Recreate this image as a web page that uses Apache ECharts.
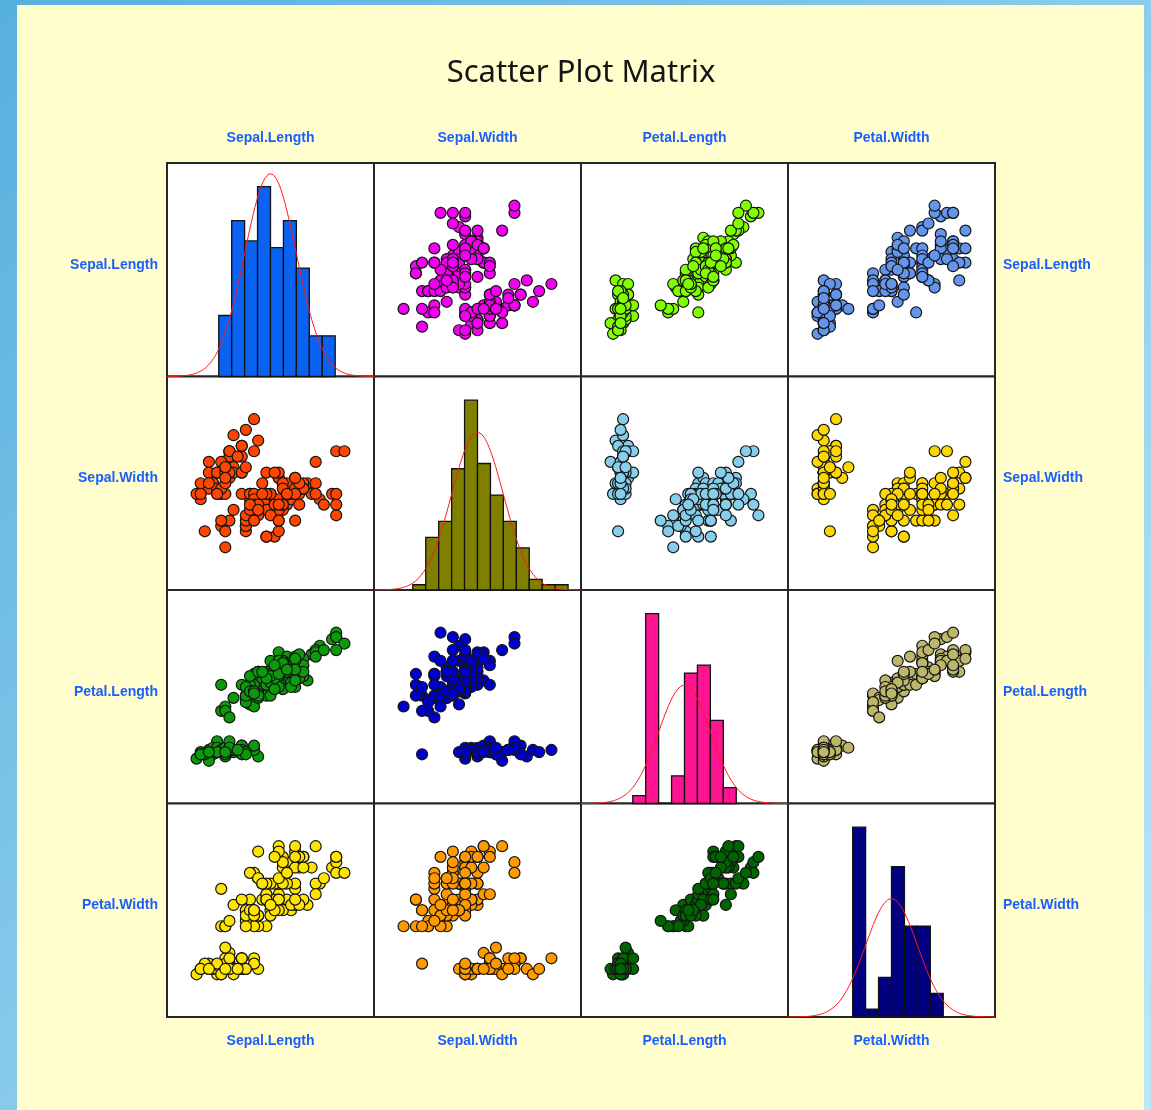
<!DOCTYPE html>
<html>
<head>
<meta charset="utf-8">
<title>Scatter Plot Matrix</title>
<script src="https://cdn.jsdelivr.net/npm/echarts@6/dist/echarts.min.js"></script>
<style>
  html, body { margin: 0; padding: 0; width: 1151px; height: 1110px; overflow: hidden; }
  #chart { width: 1151px; height: 1110px; }
</style>
</head>
<body>
<div id="chart"></div>
<script>
// Iris measurements (setosa, versicolor, virginica; 50 flowers each)
const varNames = ['Sepal.Length', 'Sepal.Width', 'Petal.Length', 'Petal.Width'];

const sepalLength = [
  5.1,4.9,4.7,4.6,5.0,5.4,4.6,5.0,4.4,4.9,5.4,4.8,4.8,4.3,5.8,5.7,5.4,5.1,5.7,5.1,5.4,5.1,4.6,5.1,4.8,
  5.0,5.0,5.2,5.2,4.7,4.8,5.4,5.2,5.5,4.9,5.0,5.5,4.9,4.4,5.1,5.0,4.5,4.4,5.0,5.1,4.8,5.1,4.6,5.3,5.0,
  7.0,6.4,6.9,5.5,6.5,5.7,6.3,4.9,6.6,5.2,5.0,5.9,6.0,6.1,5.6,6.7,5.6,5.8,6.2,5.6,5.9,6.1,6.3,6.1,6.4,
  6.6,6.8,6.7,6.0,5.7,5.5,5.5,5.8,6.0,5.4,6.0,6.7,6.3,5.6,5.5,5.5,6.1,5.8,5.0,5.6,5.7,5.7,6.2,5.1,5.7,
  6.3,5.8,7.1,6.3,6.5,7.6,4.9,7.3,6.7,7.2,6.5,6.4,6.8,5.7,5.8,6.4,6.5,7.7,7.7,6.0,6.9,5.6,7.7,6.3,6.7,
  7.2,6.2,6.1,6.4,7.2,7.4,7.9,6.4,6.3,6.1,7.7,6.3,6.4,6.0,6.9,6.7,6.9,5.8,6.8,6.7,6.7,6.3,6.5,6.2,5.9
];

const sepalWidth = [
  3.5,3.0,3.2,3.1,3.6,3.9,3.4,3.4,2.9,3.1,3.7,3.4,3.0,3.0,4.0,4.4,3.9,3.5,3.8,3.8,3.4,3.7,3.6,3.3,3.4,
  3.0,3.4,3.5,3.4,3.2,3.1,3.4,4.1,4.2,3.1,3.2,3.5,3.6,3.0,3.4,3.5,2.3,3.2,3.5,3.8,3.0,3.8,3.2,3.7,3.3,
  3.2,3.2,3.1,2.3,2.8,2.8,3.3,2.4,2.9,2.7,2.0,3.0,2.2,2.9,2.9,3.1,3.0,2.7,2.2,2.5,3.2,2.8,2.5,2.8,2.9,
  3.0,2.8,3.0,2.9,2.6,2.4,2.4,2.7,2.7,3.0,3.4,3.1,2.3,3.0,2.5,2.6,3.0,2.6,2.3,2.7,3.0,2.9,2.9,2.5,2.8,
  3.3,2.7,3.0,2.9,3.0,3.0,2.5,2.9,2.5,3.6,3.2,2.7,3.0,2.5,2.8,3.2,3.0,3.8,2.6,2.2,3.2,2.8,2.8,2.7,3.3,
  3.2,2.8,3.0,2.8,3.0,2.8,3.8,2.8,2.8,2.6,3.0,3.4,3.1,3.0,3.1,3.1,3.1,2.7,3.2,3.3,3.0,2.5,3.0,3.4,3.0
];

const petalLength = [
  1.4,1.4,1.3,1.5,1.4,1.7,1.4,1.5,1.4,1.5,1.5,1.6,1.4,1.1,1.2,1.5,1.3,1.4,1.7,1.5,1.7,1.5,1.0,1.7,1.9,
  1.6,1.6,1.5,1.4,1.6,1.6,1.5,1.5,1.4,1.5,1.2,1.3,1.4,1.3,1.5,1.3,1.3,1.3,1.6,1.9,1.4,1.6,1.4,1.5,1.4,
  4.7,4.5,4.9,4.0,4.6,4.5,4.7,3.3,4.6,3.9,3.5,4.2,4.0,4.7,3.6,4.4,4.5,4.1,4.5,3.9,4.8,4.0,4.9,4.7,4.3,
  4.4,4.8,5.0,4.5,3.5,3.8,3.7,3.9,5.1,4.5,4.5,4.7,4.4,4.1,4.0,4.4,4.6,4.0,3.3,4.2,4.2,4.2,4.3,3.0,4.1,
  6.0,5.1,5.9,5.6,5.8,6.6,4.5,6.3,5.8,6.1,5.1,5.3,5.5,5.0,5.1,5.3,5.5,6.7,6.9,5.0,5.7,4.9,6.7,4.9,5.7,
  6.0,4.8,4.9,5.6,5.8,6.1,6.4,5.6,5.1,5.6,6.1,5.6,5.5,4.8,5.4,5.6,5.1,5.1,5.9,5.7,5.2,5.0,5.2,5.4,5.1
];

const petalWidth = [
  0.2,0.2,0.2,0.2,0.2,0.4,0.3,0.2,0.2,0.1,0.2,0.2,0.1,0.1,0.2,0.4,0.4,0.3,0.3,0.3,0.2,0.4,0.2,0.5,0.2,
  0.2,0.4,0.2,0.2,0.2,0.2,0.4,0.1,0.2,0.2,0.2,0.2,0.1,0.2,0.2,0.3,0.3,0.2,0.6,0.4,0.3,0.2,0.2,0.2,0.2,
  1.4,1.5,1.5,1.3,1.5,1.3,1.6,1.0,1.3,1.4,1.0,1.5,1.0,1.4,1.3,1.4,1.5,1.0,1.5,1.1,1.8,1.3,1.5,1.2,1.3,
  1.4,1.4,1.7,1.5,1.0,1.1,1.0,1.2,1.6,1.5,1.6,1.5,1.3,1.3,1.3,1.2,1.4,1.2,1.0,1.3,1.2,1.3,1.3,1.1,1.3,
  2.5,1.9,2.1,1.8,2.2,2.1,1.7,1.8,1.8,2.5,2.0,1.9,2.1,2.0,2.4,2.3,1.8,2.2,2.3,1.5,2.3,2.0,2.0,1.8,2.1,
  1.8,1.8,1.8,2.1,1.6,1.9,2.0,2.2,1.5,1.4,2.3,2.4,1.8,1.8,2.1,2.4,2.3,1.9,2.3,2.5,2.3,1.9,2.0,2.3,1.8
];

const columns = [sepalLength, sepalWidth, petalLength, petalWidth];

// fill colour of each panel, row by row (diagonal = histogram bars)
const panelColors = [
  ['#0A62F2', '#F200F0', '#80FF00', '#6495ED'],
  ['#FF4500', '#808000', '#87CEEB', '#FFD700'],
  ['#0A9A0A', '#0000CD', '#FF1493', '#BDB76B'],
  ['#FFE400', '#FF9900', '#006400', '#000080']
];

// ---- layout of the 4x4 panel block ----
const LEFT = 167, TOP = 163, CELL_W = 207, CELL_H = 213.5, N = 4;
const LABEL_COLOR = '#1A5EFF';
const LABEL_FONT = 'bold 14px "Liberation Sans", Arial, sans-serif';

function describe(v) {
  const n = v.length;
  const mean = v.reduce((a, b) => a + b, 0) / n;
  const sd = Math.sqrt(v.reduce((a, b) => a + (b - mean) * (b - mean), 0) / (n - 1));
  return { n, mean, sd, min: Math.min(...v), max: Math.max(...v) };
}

// histogram with bins half a standard deviation wide, aligned on the mean
function histogram(v, s) {
  const bw = s.sd / 2;
  const counts = {};
  v.forEach(x => {
    const k = Math.floor((x - s.mean) / bw);
    counts[k] = (counts[k] || 0) + 1;
  });
  const ks = Object.keys(counts).map(Number);
  const lo = Math.min(...ks), hi = Math.max(...ks);
  const bins = [];
  for (let k = lo; k <= hi; k++) {
    bins.push([s.mean + k * bw, s.mean + (k + 1) * bw, counts[k] || 0]);
  }
  return { bw, bins };
}

// normal density of the column, expressed in bin counts
function densityCurve(s, bw) {
  const pts = [];
  const steps = 160;
  const a = s.mean - 4 * s.sd, b = s.mean + 4 * s.sd;
  for (let i = 0; i <= steps; i++) {
    const x = a + (b - a) * i / steps;
    const z = (x - s.mean) / s.sd;
    pts.push([x, s.n * bw * Math.exp(-0.5 * z * z) / (s.sd * Math.sqrt(2 * Math.PI))]);
  }
  return pts;
}

const stats = columns.map(describe);

const grids = [], xAxes = [], yAxes = [], series = [];

for (let r = 0; r < N; r++) {
  for (let c = 0; c < N; c++) {
    const gi = grids.length;
    grids.push({
      left: LEFT + c * CELL_W,
      top: TOP + r * CELL_H,
      width: CELL_W,
      height: CELL_H,
      show: true,
      backgroundColor: '#FFFFFF',
      borderColor: '#262626',
      borderWidth: 2,
      containLabel: false
    });
    const sx = stats[c], sy = stats[r];
    if (r === c) {
      const h = histogram(columns[c], sx);
      const maxCount = Math.max(...h.bins.map(b => b[2]));
      xAxes.push({ type: 'value', gridIndex: gi, show: false,
        min: sx.mean - 4 * sx.sd, max: sx.mean + 4 * sx.sd });
      yAxes.push({ type: 'value', gridIndex: gi, show: false, min: 0, max: maxCount * 9 / 8 });
      const fill = panelColors[r][c];
      series.push({
        type: 'custom',
        xAxisIndex: gi, yAxisIndex: gi,
        data: h.bins,
        encode: { x: [0, 1], y: 2 },
        silent: true,
        renderItem: function (params, api) {
          const top = api.coord([api.value(0), api.value(2)]);
          const base = api.coord([api.value(1), 0]);
          return {
            type: 'rect',
            shape: { x: top[0], y: top[1], width: base[0] - top[0], height: base[1] - top[1] },
            style: { fill: fill, stroke: '#111111', lineWidth: 1.3 }
          };
        },
        z: 2
      });
      series.push({
        type: 'line',
        xAxisIndex: gi, yAxisIndex: gi,
        data: densityCurve(sx, h.bw),
        showSymbol: false,
        silent: true,
        lineStyle: { color: '#FF1A1A', width: 1 },
        z: 3
      });
    } else {
      const rx = sx.max - sx.min, ry = sy.max - sy.min;
      xAxes.push({ type: 'value', gridIndex: gi, show: false,
        min: sx.min - rx / 5, max: sx.max + rx / 5 });
      yAxes.push({ type: 'value', gridIndex: gi, show: false,
        min: sy.min - ry / 3, max: sy.max + ry / 3 });
      series.push({
        type: 'scatter',
        xAxisIndex: gi, yAxisIndex: gi,
        data: columns[c].map((x, i) => [x, columns[r][i]]),
        symbol: 'circle',
        symbolSize: 11,
        silent: true,
        itemStyle: { color: panelColors[r][c], borderColor: '#141414', borderWidth: 1.2, opacity: 1 },
        z: 2
      });
    }
  }
}

// text: title and variable names round the block
const graphics = [
  { type: 'rect', z: -10, silent: true,
    shape: { x: 17, y: 5, width: 1127, height: 1120 },
    style: { fill: '#FFFECC' } },
  { type: 'text', silent: true,
    style: { text: 'Scatter Plot Matrix', x: LEFT + CELL_W * N / 2, y: 73,
      fill: '#141414', font: '31px "Noto Sans", sans-serif',
      align: 'center', verticalAlign: 'middle', textAlign: 'center', textVerticalAlign: 'middle' } }
];

function label(text, x, y, align) {
  graphics.push({ type: 'text', silent: true,
    style: { text, x, y, fill: LABEL_COLOR, font: LABEL_FONT,
      align, verticalAlign: 'middle', textAlign: align, textVerticalAlign: 'middle' } });
}

for (let i = 0; i < N; i++) {
  const cx = LEFT + CELL_W * (i + 0.5);
  const cy = TOP + CELL_H * (i + 0.5) - 5;
  label(varNames[i], cx, TOP - 25, 'center');
  label(varNames[i], cx, TOP + CELL_H * N + 24, 'center');
  label(varNames[i], LEFT - 9, cy, 'right');
  label(varNames[i], LEFT + CELL_W * N + 8, cy, 'left');
}

const chart = echarts.init(document.getElementById('chart'), null, { renderer: 'canvas' });
chart.setOption({
  animation: false,
  backgroundColor: new echarts.graphic.LinearGradient(0, 0, 1, 1, [
    { offset: 0, color: '#56B0DE' },
    { offset: 1, color: '#BDE7F9' }
  ]),
  grid: grids,
  xAxis: xAxes,
  yAxis: yAxes,
  series: series,
  graphic: graphics
});
</script>
</body>
</html>
